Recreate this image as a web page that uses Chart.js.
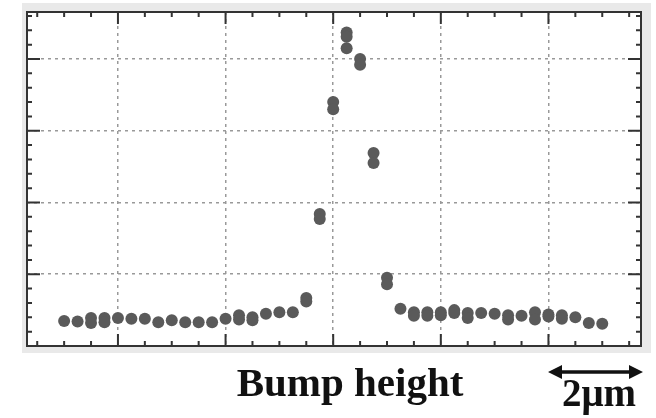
<!DOCTYPE html>
<html>
<head>
<meta charset="utf-8">
<script src="https://cdn.jsdelivr.net/npm/chart.js@4"></script>
<style>
  html, body { margin: 0; padding: 0; background: #fff; }
  #wrap { position: relative; width: 656px; height: 418px; }
  #label { position: absolute; left: 200px; width: 300px; top: 358px; text-align: center;
           font-family: "Liberation Serif", serif; font-weight: bold; font-size: 41px; color: #111; }
  #scale { position: absolute; left: 554px; width: 90px; top: 370px; text-align: center;
           font-family: "Liberation Serif", serif; font-weight: bold; font-size: 39px; color: #111; }
</style>
</head>
<body>
<div id="wrap">
  <canvas id="myChart" width="656" height="418"></canvas>
  <div id="label">Bump height</div>
  <div id="scale">2μm</div>
</div>
<script>
// scan positions (minor tick units) and measured heights (major grid units)
var xPositions = [2, 2.5, 3, 3.5, 4, 4.5, 5, 5.5, 6, 6.5, 7, 7.5, 8, 8.5, 9, 9.5, 10, 10.5, 11, 11.5,
                  12, 12.5, 13, 13.5, 14, 14.5, 15, 15.5, 16, 16.5, 17, 17.5, 18, 18.5, 19, 19.5, 20, 20.5, 21, 21.5, 22];
var upperValues = [0.35, 0.34, 0.39, 0.39, 0.39, 0.38, 0.38, 0.33, 0.36, 0.33, 0.33, 0.33, 0.38, 0.43, 0.40, 0.45, 0.47, 0.47, 0.67, 1.84,
                   3.40, 4.37, 4.00, 2.69, 0.95, 0.52, 0.47, 0.47, 0.47, 0.50, 0.46, 0.46, 0.45, 0.43, 0.42, 0.47, 0.44, 0.43, 0.40, 0.32, 0.31];
var lowerValues = [0.35, 0.34, 0.32, 0.33, 0.39, 0.38, 0.38, 0.33, 0.36, 0.33, 0.33, 0.33, 0.38, 0.37, 0.36, 0.45, 0.47, 0.47, 0.62, 1.77,
                   3.30, 4.31, 3.92, 2.55, 0.86, 0.52, 0.42, 0.42, 0.43, 0.46, 0.39, 0.46, 0.45, 0.37, 0.42, 0.37, 0.41, 0.38, 0.40, 0.32, 0.31];
var extraX = [12.5];
var extraY = [4.15];
var xGridTicks = [4, 8, 12, 16, 20];
var yGridTicks = [1, 2, 3, 4];

var points = [];
for (var i = 0; i < xPositions.length; i++) {
    points.push({ x: xPositions[i], y: upperValues[i] });
    if (lowerValues[i] != upperValues[i]) {
        points.push({ x: xPositions[i], y: lowerValues[i] });
    }
}
for (var j = 0; j < extraX.length; j++) {
    points.push({ x: extraX[j], y: extraY[j] });
}

// frame, border box, inward ticks and the scale arrow
var framePlugin = {
    id: "frame",
    beforeDraw: function (chart) {
        var ctx = chart.ctx, a = chart.chartArea;
        ctx.save();
        ctx.fillStyle = "#e9e9e9";
        ctx.fillRect(a.left - 5, a.top - 9, a.right - a.left + 15, a.bottom - a.top + 16);
        ctx.fillStyle = "#fff";
        ctx.fillRect(a.left, a.top, a.right - a.left, a.bottom - a.top);
        ctx.restore();
    },
    afterDatasetsDraw: function (chart) {
        var ctx = chart.ctx, a = chart.chartArea;
        var xs = chart.scales.x, ys = chart.scales.y;
        ctx.save();
        ctx.strokeStyle = "#333";
        ctx.lineWidth = 2;
        ctx.strokeRect(a.left, a.top, a.right - a.left, a.bottom - a.top);
        ctx.beginPath();
        for (var v = 1; v <= 23; v++) {
            var px = xs.getPixelForValue(v);
            var len = (v % 4 == 0) ? 12 : 5;
            ctx.moveTo(px, a.bottom); ctx.lineTo(px, a.bottom - len);
            ctx.moveTo(px, a.top); ctx.lineTo(px, a.top + len);
        }
        for (var k = 1; k <= 23; k++) {
            var py = ys.getPixelForValue(k * 0.2);
            var l2 = (k % 5 == 0) ? 13 : 5;
            ctx.moveTo(a.left, py); ctx.lineTo(a.left + l2, py);
            ctx.moveTo(a.right, py); ctx.lineTo(a.right - l2, py);
        }
        ctx.stroke();

        // double arrow
        var x1 = 548, x2 = 643, y = 372;
        ctx.fillStyle = "#111";
        ctx.strokeStyle = "#111";
        ctx.lineWidth = 3.5;
        ctx.beginPath();
        ctx.moveTo(x1 + 10, y); ctx.lineTo(x2 - 10, y);
        ctx.stroke();
        ctx.beginPath();
        ctx.moveTo(x1, y); ctx.lineTo(x1 + 14, y - 7); ctx.lineTo(x1 + 14, y + 7); ctx.closePath();
        ctx.moveTo(x2, y); ctx.lineTo(x2 - 14, y - 7); ctx.lineTo(x2 - 14, y + 7); ctx.closePath();
        ctx.fill();
        ctx.restore();
    }
};

var ctx = document.getElementById("myChart").getContext("2d");
var myChart = new Chart(ctx, {
    type: "scatter",
    data: {
        datasets: [{
            data: points,
            backgroundColor: "#5a5a5a",
            borderColor: "#5a5a5a",
            borderWidth: 0,
            pointRadius: 6,
        }],
    },
    plugins: [framePlugin],
    options: {
        responsive: false,
        animation: false,
        layout: { padding: { left: 27, top: 12, right: 15, bottom: 72 } },
        plugins: { legend: { display: false }, tooltip: { enabled: false } },
        scales: {
            x: {
                type: "linear",
                min: 0.62,
                max: 23.44,
                afterBuildTicks: function (axis) {
                    axis.ticks = xGridTicks.map(function (v) { return { value: v }; });
                },
                ticks: { display: false },
                border: { display: false, dash: [3, 4] },
                grid: { color: "#999", lineWidth: 1.5, drawTicks: false },
            },
            y: {
                min: 0,
                max: 4.655,
                afterBuildTicks: function (axis) {
                    axis.ticks = yGridTicks.map(function (v) { return { value: v }; });
                },
                ticks: { display: false },
                border: { display: false, dash: [3, 4] },
                grid: { color: "#999", lineWidth: 1.5, drawTicks: false },
            },
        },
    },
});
</script>
</body>
</html>
